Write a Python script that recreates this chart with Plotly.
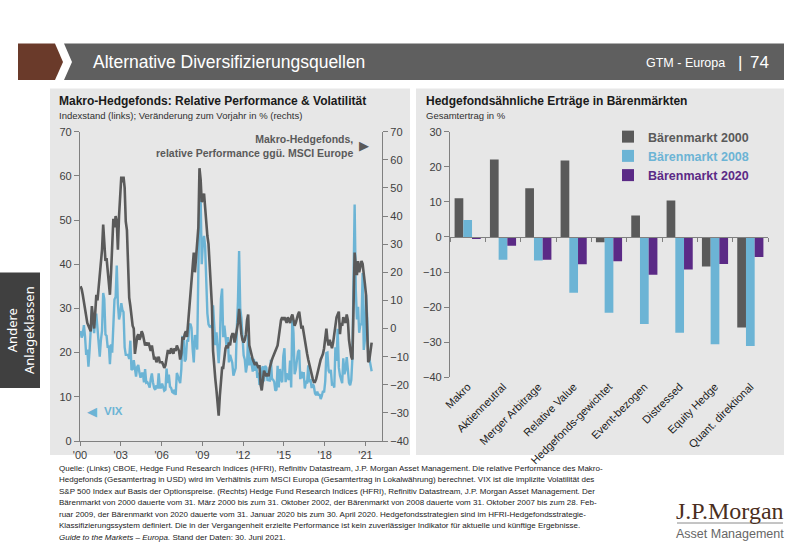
import pandas as pd
import plotly.graph_objects as go

# ---------------- data ----------------
vix_2000 = [24.9, 23.4, 24.1, 26.2, 23.7, 19.5, 20.7, 16.8, 20.6, 25.2, 29.7, 26.9]
vix_2001 = [24.4, 28.6, 28.6, 25.5, 21.1, 19.1, 22.8, 25.0, 33.5, 32.1, 24.1, 23.8]
vix_2002 = [21.1, 21.6, 17.4, 21.9, 20.0, 25.4, 32.0, 32.6, 39.7, 31.1, 27.5, 28.6]
vix_2003 = [31.2, 29.6, 29.2, 21.2, 19.5, 19.5, 19.5, 18.6, 22.7, 16.1, 16.3, 18.3]
vix_2004 = [16.6, 14.6, 16.7, 17.2, 15.5, 14.3, 15.3, 15.3, 13.3, 16.3, 13.2, 13.3]
vix_2005 = [12.8, 12.1, 14.0, 15.3, 13.3, 12.0, 11.6, 12.6, 11.9, 15.3, 12.1, 12.1]
vix_2006 = [13.0, 12.3, 11.4, 11.6, 16.4, 13.1, 15.0, 12.3, 12.0, 11.1, 10.9, 11.6]
vix_2007 = [10.4, 15.4, 14.6, 14.2, 13.1, 16.2, 23.5, 23.4, 18.0, 18.5, 22.9, 22.5]
vix_2008 = [26.2, 26.5, 25.6, 20.8, 17.8, 24.0, 22.9, 20.7, 39.4, 56.0, 55.3, 40.0]
vix_2009 = [44.8, 46.4, 44.1, 36.5, 28.9, 26.4, 25.9, 26.0, 25.6, 30.7, 24.5, 21.7]
vix_2010 = [24.6, 19.5, 17.6, 22.1, 32.1, 34.5, 23.5, 26.1, 23.7, 21.2, 23.5, 17.8]
vix_2011 = [19.5, 18.4, 17.7, 14.8, 15.5, 16.5, 25.3, 31.6, 43.0, 30.0, 27.8, 23.4]
vix_2012 = [19.4, 18.4, 15.5, 17.2, 24.1, 17.1, 18.9, 17.5, 15.7, 18.6, 15.9, 18.0]
vix_2013 = [14.3, 15.5, 12.7, 13.5, 16.3, 16.9, 13.5, 17.0, 16.6, 13.8, 13.7, 13.7]
vix_2014 = [18.4, 14.0, 13.9, 13.4, 11.4, 11.6, 17.0, 12.1, 16.3, 14.0, 13.3, 19.2]
vix_2015 = [21.0, 13.3, 15.3, 14.6, 13.8, 18.2, 12.1, 28.4, 24.5, 15.1, 16.1, 18.2]
vix_2016 = [20.2, 20.6, 14.0, 15.7, 14.2, 15.6, 11.9, 13.4, 13.3, 17.1, 13.3, 14.0]
vix_2017 = [12.0, 12.9, 12.4, 10.8, 10.4, 11.2, 10.3, 10.6, 9.5, 10.2, 11.3, 11.0]
vix_2018 = [13.5, 19.9, 20.0, 15.9, 15.4, 16.1, 12.8, 12.9, 12.1, 21.2, 18.1, 25.4]
vix_2019 = [16.6, 14.8, 13.7, 13.1, 18.7, 15.1, 16.1, 19.0, 16.2, 13.2, 12.6, 13.8]
vix_2020 = [18.8, 40.1, 53.5, 34.2, 27.5, 30.4, 24.5, 26.4, 26.4, 38.0, 20.6, 22.8]
vix_2021 = [33.1, 28.0, 19.4, 18.6, 16.8, 15.8]

hf_2000 = [15, 14, 12, 9, 7, 4, 2, 1, 0, -1, 8, 3]
hf_2001 = [0, 6, 12, 10, 14, 20, 22, 28, 37, 30, 24, 25]
hf_2002 = [20, 16, 12, 20, 33, 39, 36, 40, 38, 28, 40, 50]
hf_2003 = [54, 52, 54, 50, 38, 35, 22, 11, 8, 4, 1, 0]
hf_2004 = [-9, -6, -3, -2, -4, -3, -1, -2, -4, -6, -5, -6]
hf_2005 = [-5, -7, -8, -6, -9, -11, -10, -12, -11, -10, -12, -12]
hf_2006 = [-12, -13, -14, -13, -10, -8, -8, -9, -7, -8, -9, -7]
hf_2007 = [-8, -6, -7, -8, -11, -9, -3, -4, -2, -1, -3, 2]
hf_2008 = [8, 12, 17, 23, 27, 20, 25, 30, 36, 57, 53, 45]
hf_2009 = [46, 48, 42, 36, 33, 30, 22, 15, 8, -8, -15, -18]
hf_2010 = [-22, -27, -31, -24, -18, -14, -14, -10, -7, -6, -7, -5]
hf_2011 = [-6, -3, -2, -2, -5, -3, -1, 2, 7, 1, -2, -4]
hf_2012 = [-5, -4, -2, 3, 5, -6, -8, -10, -11, -12, -13, -12]
hf_2013 = [-13, -14, -13, -20, -22, -17, -15, -16, -17, -16, -17, -14]
hf_2014 = [-12, -11, -10, -9, -8, -7, -6, -3, 1, 3, 4, 3]
hf_2015 = [4, 3, 2, 4, 3, 2, 4, 5, 3, 1, 2, 4]
hf_2016 = [5, 6, 3, 0, 1, -2, -4, -6, -9, -11, -13, -15]
hf_2017 = [-17, -18, -19, -19, -18, -16, -15, -13, -11, -10, -9, -7]
hf_2018 = [-3, 0, -4, -6, -4, -6, -7, -5, -2, 2, 4, 5]
hf_2019 = [6, -2, 2, 1, 4, 3, 2, 5, 3, -4, -8, -10]
hf_2020 = [-11, 5, 27, 22, 19, 24, 20, 22, 24, 23, 20, 16]
hf_2021 = [12, -2, -12, -11, -7, -5]

year_ticks = [2000, 2003, 2006, 2009, 2012, 2015, 2018, 2021]
year_labels = ["'00", "'03", "'06", "'09", "'12", "'15", "'18", "'21"]

categories = ["Makro", "Aktienneutral", "Merger Arbitrage", "Relative Value",
              "Hedgefonds-gewichtet", "Event-bezogen", "Distressed",
              "Equity Hedge", "Quant. direktional"]
bear_2000 = [11.0, 22.1, 13.9, 21.8, -1.5, 6.1, 10.4, -8.4, -25.8]
bear_2008 = [4.8, -6.5, -6.7, -15.9, -21.6, -24.8, -27.3, -30.6, -31.1]
bear_2020 = [-0.6, -2.5, -6.5, -7.8, -6.9, -10.8, -9.3, -7.7, -5.7]

footnote_lines = [
    "Quelle: (Links) CBOE, Hedge Fund Research Indices (HFRI), Refinitiv Datastream, J.P. Morgan Asset Management. Die relative Performance des Makro-",
    "Hedgefonds (Gesamtertrag in USD) wird im Verhältnis zum MSCI Europa (Gesamtertrag in Lokalwährung) berechnet. VIX ist die implizite Volatilität des",
    "S&P 500 Index auf Basis der Optionspreise. (Rechts) Hedge Fund Research Indices (HFRI), Refinitiv Datastream, J.P. Morgan Asset Management. Der",
    "Bärenmarkt von 2000 dauerte vom 31. März 2000 bis zum 31. Oktober 2002, der Bärenmarkt von 2008 dauerte vom 31. Oktober 2007 bis zum 28. Feb-",
    "ruar 2009, der Bärenmarkt von 2020 dauerte vom 31. Januar 2020 bis zum 30. April 2020. Hedgefondsstrategien sind im HFRI-Hedgefondsstrategie-",
    "Klassifizierungssystem definiert. Die in der Vergangenheit erzielte Performance ist kein zuverlässiger Indikator für aktuelle und künftige Ergebnisse.",
    "<i>Guide to the Markets – Europa.</i> Stand der Daten: 30. Juni 2021.",
]

vix = (vix_2000 + vix_2001 + vix_2002 + vix_2003 + vix_2004 + vix_2005 + vix_2006 +
       vix_2007 + vix_2008 + vix_2009 + vix_2010 + vix_2011 + vix_2012 + vix_2013 +
       vix_2014 + vix_2015 + vix_2016 + vix_2017 + vix_2018 + vix_2019 + vix_2020 + vix_2021)
hf = (hf_2000 + hf_2001 + hf_2002 + hf_2003 + hf_2004 + hf_2005 + hf_2006 +
      hf_2007 + hf_2008 + hf_2009 + hf_2010 + hf_2011 + hf_2012 + hf_2013 +
      hf_2014 + hf_2015 + hf_2016 + hf_2017 + hf_2018 + hf_2019 + hf_2020 + hf_2021)
dates = pd.date_range("2000-01-01", periods=len(vix), freq="MS") + pd.Timedelta(days=14)

# ---------------- style ----------------
W, H = 800, 554
NARROW = "Liberation Sans Narrow, Arial Narrow, Liberation Sans, Arial, sans-serif"
ARIAL = "Liberation Sans, Arial, sans-serif"
DARK = "#5a5a5a"
BLUE = "#6cb4d5"
PURPLE = "#5b2a86"
AXIS = "#808080"
TICK = "#404040"
PANEL = "#e7e7e7"


def px(x):
    return x / W


def py(y):
    return 1 - y / H


fig = go.Figure()

fig.add_trace(go.Scatter(x=dates, y=vix, mode="lines", line=dict(color=BLUE, width=2.4),
                         xaxis="x", yaxis="y", showlegend=False, hoverinfo="skip"))
fig.add_trace(go.Scatter(x=dates, y=hf, mode="lines", line=dict(color=DARK, width=2.6),
                         xaxis="x", yaxis="y2", showlegend=False, hoverinfo="skip"))

for name, vals, col in [("Bärenmarkt 2000", bear_2000, DARK),
                        ("Bärenmarkt 2008", bear_2008, BLUE),
                        ("Bärenmarkt 2020", bear_2020, PURPLE)]:
    fig.add_trace(go.Bar(x=categories, y=vals, marker=dict(color=col, line=dict(width=0)),
                         name=f'<span style="color:{col}"><b>{name}</b></span>',
                         xaxis="x3", yaxis="y3", hoverinfo="skip"))

left_x = [px(80), px(382)]
left_y = [py(441), py(131.7)]
right_x = [px(450), px(768)]
right_y = [py(377.3), py(131.7)]
r_lo, r_hi = -40, 30
zero_pos = right_y[0] + (0 - r_lo) / (r_hi - r_lo) * (right_y[1] - right_y[0])

tickfont = dict(family=ARIAL, size=11, color=TICK)

fig.update_layout(
    width=W, height=H, margin=dict(l=0, r=0, t=0, b=0, pad=0, autoexpand=False),
    paper_bgcolor="white", plot_bgcolor="rgba(0,0,0,0)",
    barmode="group", bargap=0.26, bargroupgap=0,
    xaxis=dict(domain=left_x, anchor="y", type="date", automargin=False,
               range=["2000-01-01", "2022-03-20"],
               tickvals=[f"{y}-01-01" for y in year_ticks], ticktext=year_labels,
               showline=True, linecolor=AXIS, linewidth=1, ticks="outside", ticklen=4,
               tickcolor=AXIS, showgrid=False, zeroline=False, tickfont=tickfont),
    yaxis=dict(domain=left_y, anchor="x", range=[0, 70], dtick=10, automargin=False,
               showline=True, linecolor=AXIS, linewidth=1.2, ticks="outside", ticklen=5,
               tickcolor=AXIS, showgrid=False, zeroline=False, tickfont=tickfont),
    yaxis2=dict(overlaying="y", side="right", anchor="x", range=[-40, 70], dtick=10,
                automargin=False,
                showline=True, linecolor=AXIS, linewidth=1.2, ticks="outside", ticklen=5,
                tickcolor=AXIS, showgrid=False, zeroline=False, tickfont=tickfont),
    xaxis3=dict(domain=right_x, anchor="y3", type="category", showline=False,
                automargin=False,
                ticks="", tickangle=-45, showgrid=False, zeroline=False,
                tickfont=dict(family=ARIAL, size=11, color="#202020")),
    yaxis3=dict(domain=right_y, anchor="x3", range=[r_lo, r_hi], dtick=10, automargin=False,
                showline=True, linecolor=AXIS, linewidth=1.2, ticks="outside", ticklen=5,
                tickcolor=AXIS, showgrid=False, zeroline=False, tickfont=tickfont),
    xaxis4=dict(domain=right_x, anchor="free", position=zero_pos, overlaying="x3",
                automargin=False,
                range=[-0.5, len(categories) - 0.5],
                tickvals=[i - 0.5 for i in range(len(categories) + 1)],
                showticklabels=False, showline=True, linecolor=AXIS, linewidth=1.2,
                ticks="outside", ticklen=4, tickcolor=AXIS, showgrid=False, zeroline=False),
    legend=dict(x=px(608), y=py(122), xanchor="left", yanchor="top",
                bgcolor="rgba(0,0,0,0)", font=dict(family=NARROW, size=12.5),
                tracegroupgap=4, itemwidth=30),
)

fig.add_trace(go.Scatter(x=[0], y=[0], xaxis="x4", yaxis="y3", mode="markers",
                         marker=dict(opacity=0), showlegend=False, hoverinfo="skip"))

shapes = []
shapes.append(dict(type="path", xref="paper", yref="paper",
                   path=f"M {px(18)} {py(43.5)} L {px(55)} {py(43.5)} L {px(63)} {py(62)} "
                        f"L {px(55)} {py(80)} L {px(18)} {py(80)} Z",
                   fillcolor="#6a3a2a", line=dict(width=0), layer="below"))
shapes.append(dict(type="path", xref="paper", yref="paper",
                   path=f"M {px(64)} {py(43.5)} L {px(784)} {py(43.5)} L {px(784)} {py(80)} "
                        f"L {px(64)} {py(80)} L {px(72)} {py(62)} Z",
                   fillcolor="#5f5f5f", line=dict(width=0), layer="below"))
shapes.append(dict(type="rect", xref="paper", yref="paper", x0=0, x1=px(40),
                   y0=py(388), y1=py(272.5), fillcolor="#404040", line=dict(width=0),
                   layer="below"))
shapes.append(dict(type="rect", xref="paper", yref="paper", x0=px(50), x1=px(410),
                   y0=py(455), y1=py(88.5), fillcolor=PANEL, line=dict(width=0), layer="below"))
shapes.append(dict(type="rect", xref="paper", yref="paper", x0=px(416), x1=px(784),
                   y0=py(455), y1=py(88.5), fillcolor=PANEL, line=dict(width=0), layer="below"))
shapes.append(dict(type="line", xref="paper", yref="paper", x0=px(677), x1=px(783),
                   y0=py(523), y1=py(523), line=dict(color="#8a8a8a", width=1)))
fig.update_layout(shapes=shapes)

ann = []


def text(x, y, s, size, color, family=NARROW, xanchor="left", yanchor="middle", **kw):
    align = kw.pop("align", xanchor if xanchor != "center" else "center")
    ann.append(dict(x=px(x), y=py(y), xref="paper", yref="paper", text=s, showarrow=False,
                    xanchor=xanchor, yanchor=yanchor, align=align,
                    font=dict(size=size, color=color, family=family), **kw))


text(91, 62, "Alternative Diversifizierungsquellen", 17.5, "white")
text(727, 63, "GTM - Europa", 12.5, "white", xanchor="right")
text(740, 62, "|", 17, "white", xanchor="center")
text(771, 62, "74", 17, "white", xanchor="right")
text(20, 330, "Andere<br>Anlageklassen", 13, "white", family="Noto Sans, sans-serif",
     xanchor="center", textangle=-90, align="center")

text(57, 101, "<b>Makro-Hedgefonds: Relative Performance & Volatilität</b>", 12, "#1a1a1a")
text(57, 115, "Indexstand (links); Veränderung zum Vorjahr in % (rechts)", 9.5, "#303030")
text(424, 101, "<b>Hedgefondsähnliche Erträge in Bärenmärkten</b>", 12, "#1a1a1a")
text(424, 115, "Gesamtertrag in %", 9.5, "#303030")

text(355, 146, "<b>Makro-Hedgefonds,<br>relative Performance ggü. MSCI Europe</b>", 10.5,
     DARK, xanchor="right", align="right")
text(364, 146, "▶", 13, DARK, family="DejaVu Sans", xanchor="center")
text(92, 411, "◀", 13, BLUE, family="DejaVu Sans", xanchor="center")
text(102, 411, "<b>VIX</b>", 11.5, BLUE)

for i, line in enumerate(footnote_lines):
    text(57, 468 + i * 11.5, line, 8, "#1a1a1a")

text(730, 511, "J.P.Morgan", 24, "#4a2e20", family="Liberation Serif, DejaVu Serif, serif",
     xanchor="center")
text(730, 534, "Asset Management", 12.5, "#666666", family=NARROW, xanchor="center")

fig.update_layout(annotations=ann)
fig.write_html("out.html", config={"displayModeBar": False},
               post_script="document.documentElement.style.margin='0';"
                           "document.body.style.margin='0';document.body.style.padding='0';"
                           "document.body.style.overflow='hidden';")
